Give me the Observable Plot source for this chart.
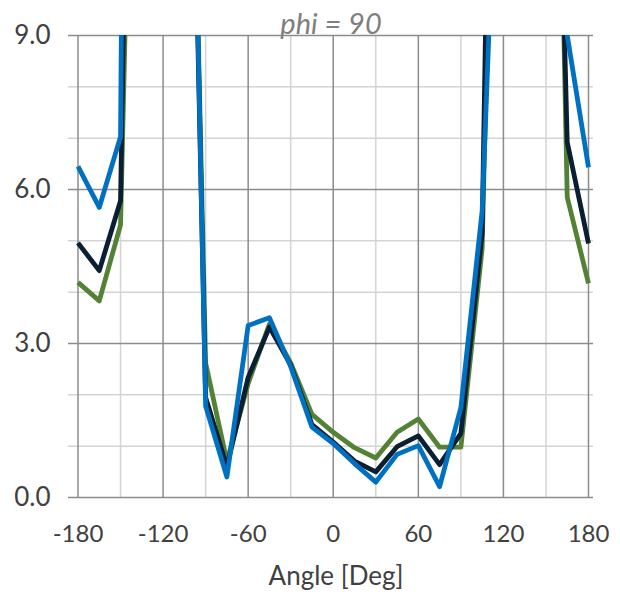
<!DOCTYPE html>
<html><head><meta charset="utf-8">
<script src="https://cdn.jsdelivr.net/npm/d3@7"></script>
<script src="https://cdn.jsdelivr.net/npm/@observablehq/plot@0.6"></script>
<style>html,body{margin:0;padding:0;background:#fff}</style>
</head><body><div id="chart"></div>
<script>
const title = "phi = 90";
const xLabel = "Angle [Deg]";
const angles = [-180,-165,-150,-135,-120,-105,-90,-75,-60,-45,-30,-15,0,15,30,45,60,75,90,105,120,135,150,165,180];
const seriesNames = ["Series 1", "Series 2", "Series 3"];
const series1 = [4.19,3.83,5.31,23,30,21,2.62,0.70,2.22,3.38,2.62,1.62,1.27,0.97,0.77,1.27,1.53,0.98,0.98,4.85,22,30,26,5.85,4.17];
const series2 = [4.96,4.42,5.78,30,35,21,1.95,0.60,2.34,3.32,2.58,1.42,1.08,0.71,0.50,0.99,1.20,0.64,1.25,5.15,30,35,23,6.92,4.95];
const series3 = [6.45,5.65,7.03,60,50,22,1.78,0.40,3.35,3.50,2.55,1.37,1.05,0.66,0.30,0.84,1.01,0.21,1.75,5.58,16.5,40,60,9.0,6.43];
const seriesColors = ["#548235", "#0b1f33", "#0070c0"];
const xTicks = [-180,-120,-60,0,60,120,180];
const xMinor = [-150,-90,-30,30,90,150];
const yTicks = [0,3,6,9];
const yMinor = [1,2,4,5,7,8];

const values = [series1, series2, series3];
const rows = [];
seriesNames.forEach((s, k) => angles.forEach((a, i) => rows.push({series: s, angle: a, value: values[k][i]})));

const chart = Plot.plot({
  width: 620, height: 595,
  marginLeft: 68, marginRight: 27, marginTop: 35, marginBottom: 98,
  x: {domain: [-180, 180], insetLeft: 9.5, insetRight: 5, axis: null},
  y: {domain: [0, 9], axis: null},
  color: {domain: seriesNames, range: seriesColors},
  style: {fontFamily: "Lato, sans-serif", background: "#fff"},
  marks: [
    Plot.ruleY(yMinor, {stroke: "#d4d4d4", strokeWidth: 1.5}),
    Plot.ruleX(xMinor, {stroke: "#d4d4d4", strokeWidth: 1.5}),
    Plot.ruleY(yTicks, {stroke: "#8c8c8c", strokeWidth: 1.5}),
    Plot.ruleX(xTicks, {stroke: "#8c8c8c", strokeWidth: 1.5}),
    Plot.axisY(yTicks, {tickSize: 0, tickPadding: 18, tickFormat: d3.format(".1f"), fontSize: 26, fill: "#404040", label: null}),
    Plot.axisX(xTicks, {tickSize: 0, tickPadding: 27.5, tickFormat: d => String(d), fontSize: 24, fill: "#404040", label: null}),
    Plot.line(rows, {x: "angle", y: "value", stroke: "series", z: "series", strokeWidth: 4.8, clip: true, strokeLinejoin: "round", strokeLinecap: "butt"}),
    Plot.text([title], {frameAnchor: "top", lineAnchor: "bottom", dy: -2, fontSize: 29, fontStyle: "italic", fill: "#7f7f7f"}),
    Plot.text([xLabel], {frameAnchor: "bottom", lineAnchor: "bottom", dy: 87, dx: 5, fontSize: 26, fill: "#404040"})
  ]
});
document.getElementById("chart").append(chart);
</script>
</body></html>
